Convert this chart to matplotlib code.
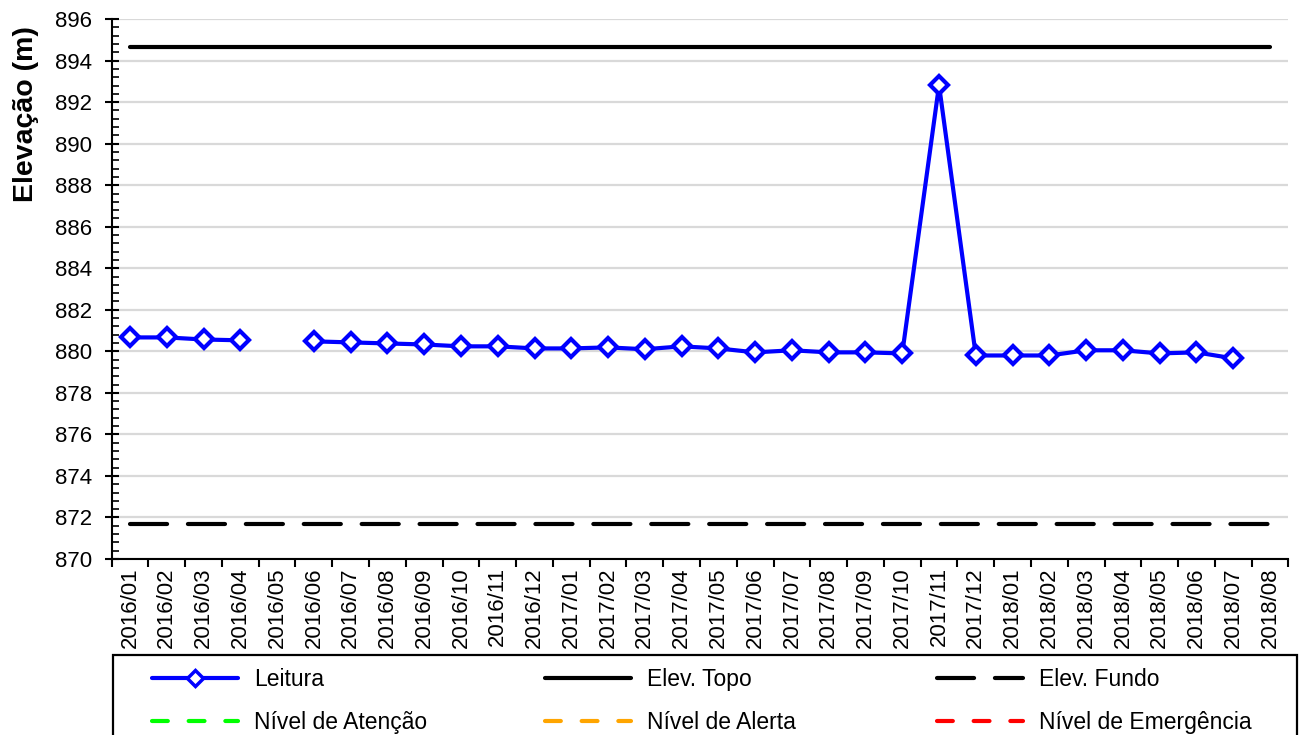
#!/usr/bin/env python3
"""Leitura de piezometro - elevacao ao longo do tempo."""
import numpy as np
import matplotlib
matplotlib.use("Agg")
import matplotlib.pyplot as plt
from matplotlib.lines import Line2D
from matplotlib.patches import Rectangle
from matplotlib.ticker import MultipleLocator

plt.rcParams['font.family'] = ['Liberation Sans', 'DejaVu Sans']

meses = ["2016/01", "2016/02", "2016/03", "2016/04", "2016/05", "2016/06",
         "2016/07", "2016/08", "2016/09", "2016/10", "2016/11", "2016/12",
         "2017/01", "2017/02", "2017/03", "2017/04", "2017/05", "2017/06",
         "2017/07", "2017/08", "2017/09", "2017/10", "2017/11", "2017/12",
         "2018/01", "2018/02", "2018/03", "2018/04", "2018/05", "2018/06",
         "2018/07", "2018/08"]
leitura = [880.67, 880.67, 880.57, 880.53, np.nan, 880.48, 880.43, 880.38,
           880.33, 880.24, 880.24, 880.14, 880.14, 880.19, 880.10, 880.24,
           880.14, 879.95, 880.05, 879.95, 879.95, 879.90, 892.82, 879.80,
           879.80, 879.80, 880.05, 880.05, 879.90, 879.95, 879.66, np.nan]
elev_topo = 894.65
elev_fundo = 871.70

x = np.arange(len(meses))
leit = np.array(leitura)

FS = 16
fig = plt.figure(figsize=(13.01, 7.35), dpi=100)
ax = fig.add_axes([0.0858, 0.2395, 0.9045, 0.7345])

# linhas de referencia
ax.plot(x, np.full(len(x), elev_topo), color="black", lw=3,
        solid_capstyle="round", zorder=3)
ax.plot(x, np.full(len(x), elev_fundo), color="black", lw=3,
        dashes=(8.9, 5.0), dash_capstyle="round", zorder=3)

# leituras
ax.plot(x, leit, color="#0000ff", lw=3, marker="D", markersize=9.5,
        markerfacecolor="white", markeredgecolor="#0000ff",
        markeredgewidth=3, zorder=4)

ax.set_xlim(-0.5, len(meses) - 0.5)
ax.set_ylim(870, 896)
ax.yaxis.set_major_locator(MultipleLocator(2))
ax.yaxis.set_minor_locator(MultipleLocator(0.4))
ax.grid(True, axis="y", which="major", color="#d9d9d9", lw=1.6)
ax.set_axisbelow(True)

ax.set_xticks(x)
ax.set_xticklabels(meses, rotation=90, fontsize=FS)
ax.set_xticks(np.arange(len(meses) + 1) - 0.5, minor=True)
ax.tick_params(axis="x", which="major", length=0, pad=6)
ax.tick_params(axis="x", which="minor", length=6, width=1.5, direction="out")
ax.tick_params(axis="y", which="major", length=10, width=1.5,
               direction="inout", labelsize=FS, pad=9)
ax.tick_params(axis="y", which="minor", length=5, width=1.2, direction="in")

for s in ["top", "right"]:
    ax.spines[s].set_visible(False)
for s in ["left", "bottom"]:
    ax.spines[s].set_linewidth(1.5)

ax.set_ylabel("Elevação (m)", fontsize=20.5, fontweight="bold")
ax.yaxis.set_label_coords(-0.062, 0.824)

# legenda: tres colunas posicionadas separadamente dentro de uma moldura
h_leit = Line2D([], [], color="#0000ff", lw=3, marker="D", markersize=8,
                markerfacecolor="white", markeredgecolor="#0000ff",
                markeredgewidth=2.5, solid_capstyle="round")
h_topo = Line2D([], [], color="black", lw=3, solid_capstyle="round")
h_fundo = Line2D([], [], color="black", lw=3, dashes=(8.9, 5.0),
                 dash_capstyle="round")
h_aten = Line2D([], [], color="#00ff00", lw=3, dashes=(3.8, 5.0),
                dash_capstyle="round")
h_aler = Line2D([], [], color="#ffa500", lw=3, dashes=(3.8, 5.0),
                dash_capstyle="round")
h_emer = Line2D([], [], color="#ff0000", lw=3, dashes=(3.8, 5.0),
                dash_capstyle="round")

colunas = [([h_leit, h_aten], ["Leitura", "Nível de Atenção"], 152),
           ([h_topo, h_aler], ["Elev. Topo", "Nível de Alerta"], 545),
           ([h_fundo, h_emer], ["Elev. Fundo", "Nível de Emergência"], 937)]
for hs, ls, px in colunas:
    lg = fig.legend(hs, ls, loc="upper left",
                    bbox_to_anchor=(px / 1301, 1 - 668 / 735),
                    frameon=False, fontsize=16.5, handlelength=3.75,
                    handletextpad=0.7, borderpad=0, borderaxespad=0,
                    labelspacing=0.89)

fig.patches.append(Rectangle((113 / 1301, -0.05), (1297 - 113) / 1301,
                             0.05 + 1 - 655 / 735, transform=fig.transFigure,
                             fill=False, edgecolor="black", lw=1.6))

fig.savefig("out.png", dpi=100)
